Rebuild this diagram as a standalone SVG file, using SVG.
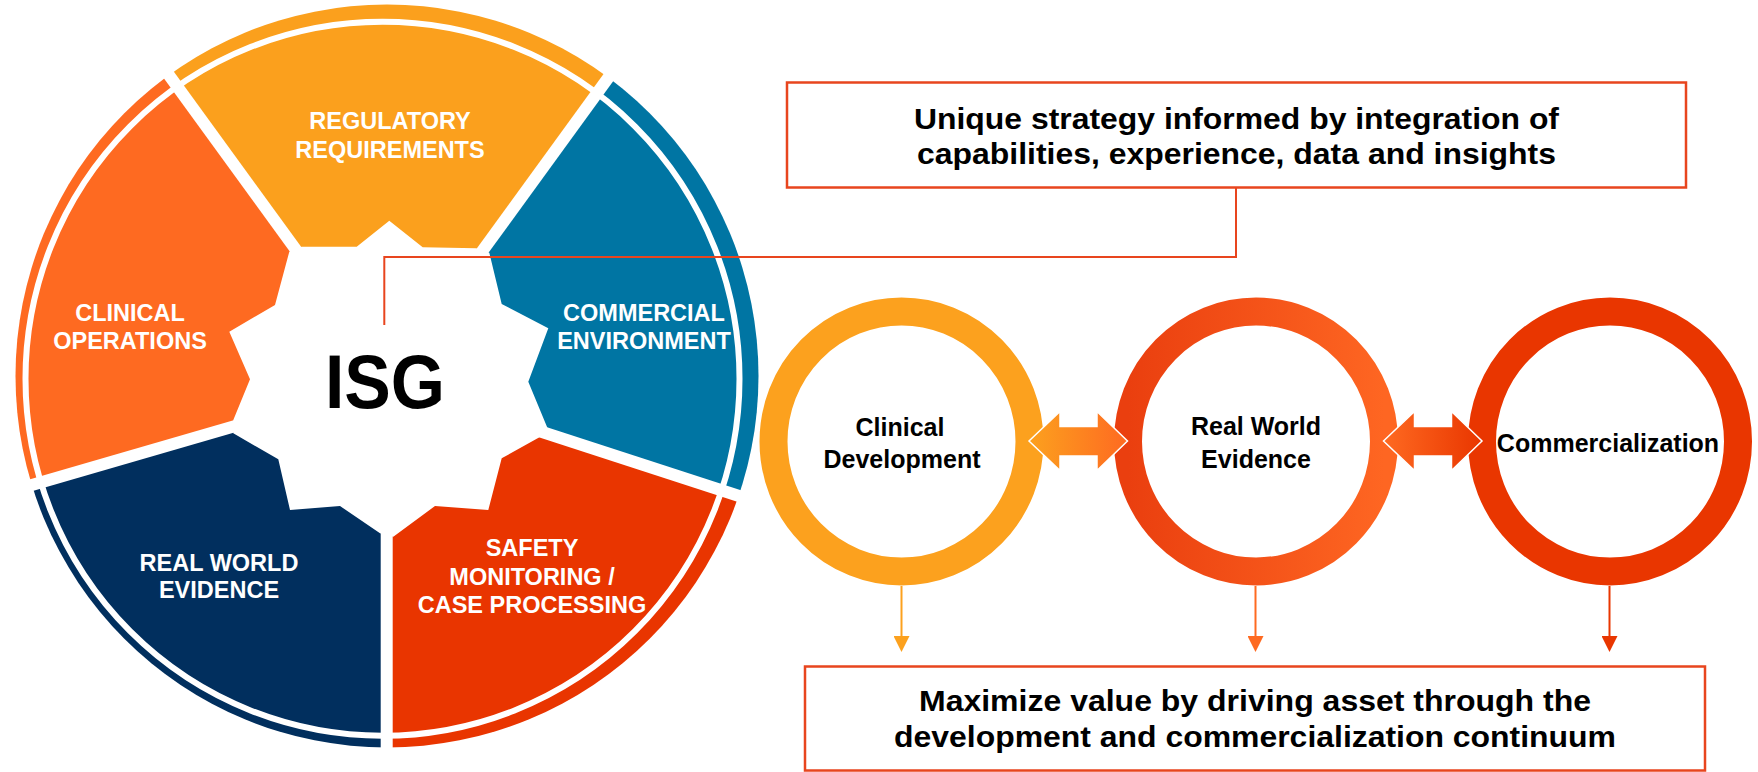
<svg xmlns="http://www.w3.org/2000/svg" width="1758" height="772" viewBox="0 0 1758 772">
<style>
.lbl{font-family:"Liberation Sans",Arial,sans-serif;font-weight:bold;font-size:23.5px;fill:#ffffff;text-anchor:middle}
.cl{font-family:"Liberation Sans",Arial,sans-serif;font-weight:bold;font-size:25px;fill:#000000;text-anchor:middle}
.bx{font-family:"Liberation Sans",Arial,sans-serif;font-weight:bold;font-size:30px;fill:#000000;text-anchor:middle}
.box{fill:#ffffff;stroke:#E8451E;stroke-width:2.5}
.gap{stroke:#ffffff;stroke-width:12;fill:none}
.ring{fill:none;stroke-width:28}
.dl{fill:none;stroke-width:2}
.darr{stroke:#ffffff;stroke-width:1.5}
</style>
<defs>
<clipPath id="outerClip"><circle cx="387" cy="376" r="371.5"/></clipPath>
<linearGradient id="g2" x1="0" y1="0" x2="1" y2="0"><stop offset="0" stop-color="#EA3F0F"/><stop offset="1" stop-color="#FE6622"/></linearGradient>
<linearGradient id="ga1" x1="0" y1="0" x2="1" y2="0"><stop offset="0" stop-color="#FCA11E"/><stop offset="1" stop-color="#FE6A21"/></linearGradient>
<linearGradient id="ga2" x1="0" y1="0" x2="1" y2="0"><stop offset="0" stop-color="#FE6A21"/><stop offset="1" stop-color="#E93600"/></linearGradient>
<marker id="mY" markerUnits="userSpaceOnUse" viewBox="0 0 16 16" markerWidth="16" markerHeight="16" refX="4" refY="8" orient="auto"><path d="M0,0 L16,8 L0,16 Z" fill="#FCA11E"/></marker>
<marker id="mO" markerUnits="userSpaceOnUse" viewBox="0 0 16 16" markerWidth="16" markerHeight="16" refX="4" refY="8" orient="auto"><path d="M0,0 L16,8 L0,16 Z" fill="#FE6A21"/></marker>
<marker id="mR" markerUnits="userSpaceOnUse" viewBox="0 0 16 16" markerWidth="16" markerHeight="16" refX="4" refY="8" orient="auto"><path d="M0,0 L16,8 L0,16 Z" fill="#E93600"/></marker>
</defs>

<g id="wheel">
  <g clip-path="url(#outerClip)">
    <polygon id="seg-regulatory" points="388,380 295.5,249.2 1.5,-155.3 776.7,-154 482.7,250.5" fill="#FBA01D"/>
    <polygon id="seg-commercial" points="388,380 482.7,250.5 776.7,-154 1020.5,587.5 545,433" fill="#0075A3"/>
    <polygon id="seg-safety" points="388,380 545,433 1020.5,587.5 386.7,1035 386.7,535" fill="#E93500"/>
    <polygon id="seg-rwe" points="388,380 386.7,535 386.7,1035 -246.7,565.7 233.3,426.7" fill="#012F5E"/>
    <polygon id="seg-clinical" points="388,380 233.3,426.7 -246.7,565.7 1.5,-155.3 295.5,249.2" fill="#FE6A21"/>
  </g>
  <circle cx="382.5" cy="378.75" r="357" fill="none" stroke="#ffffff" stroke-width="6"/>
  <line class="gap" x1="307" y1="265" x2="30" y2="-116"/>
  <line class="gap" x1="471" y1="266.6" x2="747.6" y2="-114"/>
  <line class="gap" x1="526" y1="426.8" x2="990" y2="577.6"/>
  <line class="gap" x1="386.7" y1="515" x2="386.7" y2="800"/>
  <line class="gap" x1="252.5" y1="421.1" x2="-200" y2="552"/>
  <polygon id="gear" fill="#ffffff" points="301.7,246.7 356.7,246.7 389.3,220.7 422.7,247.3 476,248.3 489.3,252.7 501.7,304 548.3,328.3 528.3,381.7 548.3,430 541.7,436 501.7,458.3 488.3,510 435,506 393.3,536.7 380,533.3 340,506 290,510 278.3,459.3 233.3,433.3 233.3,420 250,379.3 229.3,331.7 275,305 289.3,251.7"/>
</g>

<g id="n-regulatory"><text class="lbl" x="390" y="129.3">REGULATORY</text><text class="lbl" x="390" y="157.7">REQUIREMENTS</text></g>
<g id="n-clinical-ops"><text class="lbl" x="130" y="320.7">CLINICAL</text><text class="lbl" x="130" y="349">OPERATIONS</text></g>
<g id="n-commercial-env"><text class="lbl" x="644" y="320.7">COMMERCIAL</text><text class="lbl" x="644" y="349">ENVIRONMENT</text></g>
<g id="n-rwe-seg"><text class="lbl" x="219" y="570.7">REAL WORLD</text><text class="lbl" x="219" y="598.3">EVIDENCE</text></g>
<g id="n-safety"><text class="lbl" x="532" y="555.7">SAFETY</text><text class="lbl" x="532" y="585">MONITORING /</text><text class="lbl" x="532" y="613.3">CASE PROCESSING</text></g>

<g id="connectors">
  <polyline points="1236,188 1236,257 384.3,257 384.3,325" fill="none" stroke="#E8451E" stroke-width="2"/>
  <path class="dl" d="M901.5,586 V640" stroke="#FCA11E" marker-end="url(#mY)"/>
  <path class="dl" d="M1255.5,586 V640" stroke="#FE6A21" marker-end="url(#mO)"/>
  <path class="dl" d="M1609.5,586 V640" stroke="#E93600" marker-end="url(#mR)"/>
</g>

<g id="n-isg"><text x="385" y="408.3" font-family="'Liberation Sans',Arial,sans-serif" font-weight="bold" font-size="76" text-anchor="middle" textLength="120" lengthAdjust="spacingAndGlyphs">ISG</text></g>

<g id="n-strategy">
  <rect class="box" x="787" y="82.5" width="899" height="105"/>
  <text class="bx" x="1236.5" y="129.3" textLength="645" lengthAdjust="spacingAndGlyphs">Unique strategy informed by integration of</text>
  <text class="bx" x="1236.5" y="164" textLength="639" lengthAdjust="spacingAndGlyphs">capabilities, experience, data and insights</text>
</g>

<g id="n-clinical-dev">
  <ellipse class="ring" cx="901.5" cy="441.5" rx="128" ry="130" stroke="#FCA11E"/>
  <text class="cl" x="900" y="436">Clinical</text>
  <text class="cl" x="902" y="467.7">Development</text>
</g>
<g id="n-rwe">
  <ellipse class="ring" cx="1256" cy="441.5" rx="128" ry="130" stroke="url(#g2)"/>
  <text class="cl" x="1256" y="435">Real World</text>
  <text class="cl" x="1256" y="468.3">Evidence</text>
</g>
<g id="n-commercialization">
  <ellipse class="ring" cx="1610" cy="441.5" rx="128" ry="130" stroke="#E93600"/>
  <text class="cl" x="1608" y="451.7">Commercialization</text>
</g>

<g id="double-arrows">
  <polygon class="darr" fill="url(#ga1)" points="1029,441 1060,411.5 1060,426.5 1097,426.5 1097,411.5 1127.5,441 1097,470.5 1097,456 1060,456 1060,470.5"/>
  <polygon class="darr" fill="url(#ga2)" points="1383.5,441 1414.5,411.5 1414.5,426.5 1451.5,426.5 1451.5,411.5 1482,441 1451.5,470.5 1451.5,456 1414.5,456 1414.5,470.5"/>
</g>

<g id="n-maximize">
  <rect class="box" x="805" y="666.5" width="900" height="104"/>
  <text class="bx" x="1255" y="711" textLength="672" lengthAdjust="spacingAndGlyphs">Maximize value by driving asset through the</text>
  <text class="bx" x="1255" y="747.3" textLength="722" lengthAdjust="spacingAndGlyphs">development and commercialization continuum</text>
</g>
</svg>
